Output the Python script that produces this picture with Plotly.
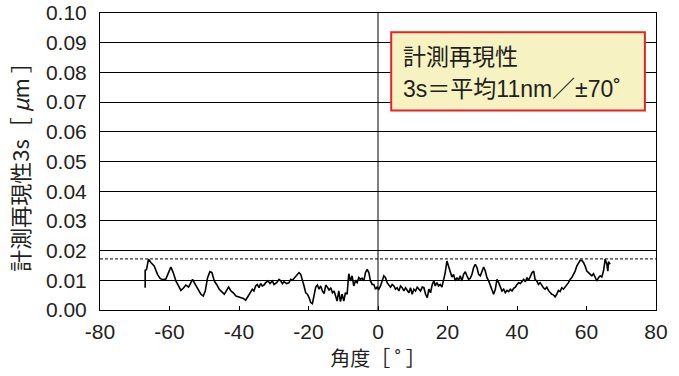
import plotly.graph_objects as go

# Measured repeatability (3s) versus angle
angle_deg = [
    -67.0, -67.0, -66.62, -66.04, -65.37, -64.41, -63.45, -62.77, -62.01, -61.05,
    -60.28, -59.60, -58.93, -58.16, -57.40, -56.72, -56.05, -55.28, -54.51, -53.84,
    -53.36, -52.88, -52.21, -51.63, -50.96, -50.29, -49.71, -49.04, -48.37, -47.79,
    -47.12, -46.44, -45.68, -44.91, -44.23, -43.56, -42.99, -42.31, -41.64, -40.87,
    -40.10, -39.53, -38.76, -38.09, -37.61, -36.84, -36.17, -35.69, -35.21, -34.73,
    -34.25, -33.77, -33.29, -32.81, -32.32, -31.65, -31.08, -30.40, -29.92, -29.16,
    -28.48, -28.00, -27.52, -27.04, -26.27, -25.60, -25.12, -24.64, -23.97, -23.39,
    -22.72, -22.24, -21.76, -21.28, -20.80, -20.32, -19.84, -19.36, -18.88, -18.40,
    -17.92, -17.44, -16.96, -16.48, -16.00, -15.51, -15.03, -14.55, -14.07, -13.59,
    -13.11, -12.63, -12.15, -11.77, -11.29, -10.81, -10.33, -9.85, -9.37, -8.89,
    -8.41, -7.93, -7.45, -6.97, -6.49, -6.01, -5.53, -5.05, -4.57, -4.08,
    -3.60, -3.12, -2.64, -2.16, -1.68, -1.20, -0.72, -0.24, 0.24, 0.72,
    1.20, 1.68, 2.16, 2.64, 3.12, 3.60, 4.08, 4.56, 5.04, 5.52,
    6.00, 6.48, 6.96, 7.44, 7.92, 8.40, 8.88, 9.36, 9.84, 10.32,
    10.80, 11.28, 11.76, 12.24, 12.73, 13.21, 13.69, 14.17, 14.65, 15.13,
    15.61, 16.09, 16.47, 16.95, 17.43, 17.91, 18.39, 18.87, 19.35, 19.83,
    20.31, 20.79, 21.27, 21.75, 22.23, 22.71, 23.19, 23.67, 24.15, 24.64,
    25.12, 25.60, 26.08, 26.56, 27.04, 27.52, 28.00, 28.48, 28.96, 29.44,
    29.92, 30.40, 30.88, 31.36, 31.84, 32.32, 32.80, 33.28, 33.76, 34.24,
    34.72, 35.20, 35.68, 36.16, 36.64, 37.12, 37.60, 38.08, 38.56, 39.04,
    39.52, 40.01, 40.49, 40.97, 41.45, 41.93, 42.41, 42.89, 43.37, 43.85,
    44.33, 44.81, 45.20, 45.68, 46.16, 46.64, 47.12, 47.60, 48.08, 48.56,
    49.04, 49.52, 50.00, 50.48, 50.96, 51.44, 51.92, 52.40, 52.88, 53.37,
    53.85, 54.33, 54.81, 55.29, 55.77, 56.25, 56.73, 57.21, 57.69, 58.17,
    58.65, 59.13, 59.61, 60.09, 60.57, 61.05, 61.53, 62.01, 62.49, 62.97,
    63.45, 63.93, 64.41, 64.89, 65.37, 65.85, 66.14, 66.33, 66.81,
]
repeatability_um = [
    0.0075, 0.0134, 0.0136, 0.0171, 0.0160, 0.0148, 0.0120, 0.0107, 0.0102, 0.0104,
    0.0126, 0.0145, 0.0126, 0.0098, 0.0081, 0.0066, 0.0073, 0.0084, 0.0077, 0.0092,
    0.0103, 0.0092, 0.0077, 0.0066, 0.0053, 0.0047, 0.0064, 0.0109, 0.0129, 0.0126,
    0.0098, 0.0086, 0.0070, 0.0061, 0.0053, 0.0066, 0.0077, 0.0064, 0.0058, 0.0047,
    0.0044, 0.0044, 0.0039, 0.0033, 0.0042, 0.0053, 0.0070, 0.0064, 0.0081, 0.0086,
    0.0075, 0.0089, 0.0081, 0.0084, 0.0092, 0.0098, 0.0089, 0.0098, 0.0086, 0.0092,
    0.0103, 0.0098, 0.0089, 0.0095, 0.0089, 0.0092, 0.0103, 0.0100, 0.0109, 0.0120,
    0.0126, 0.0120, 0.0103, 0.0081, 0.0058, 0.0053, 0.0042, 0.0025, 0.0021, 0.0053,
    0.0077, 0.0084, 0.0070, 0.0081, 0.0064, 0.0055, 0.0084, 0.0077, 0.0066, 0.0075,
    0.0058, 0.0064, 0.0047, 0.0030, 0.0064, 0.0028, 0.0053, 0.0030, 0.0058, 0.0053,
    0.0122, 0.0098, 0.0115, 0.0081, 0.0098, 0.0092, 0.0109, 0.0103, 0.0107, 0.0098,
    0.0126, 0.0137, 0.0126, 0.0098, 0.0086, 0.0086, 0.0070, 0.0077, 0.0070, 0.0081,
    0.0098, 0.0115, 0.0109, 0.0092, 0.0084, 0.0077, 0.0086, 0.0081, 0.0070, 0.0075,
    0.0064, 0.0081, 0.0075, 0.0064, 0.0075, 0.0066, 0.0058, 0.0075, 0.0053, 0.0070,
    0.0064, 0.0077, 0.0070, 0.0064, 0.0077, 0.0075, 0.0053, 0.0042, 0.0070, 0.0058,
    0.0086, 0.0098, 0.0081, 0.0092, 0.0081, 0.0086, 0.0077, 0.0098, 0.0126, 0.0165,
    0.0148, 0.0129, 0.0111, 0.0120, 0.0098, 0.0109, 0.0100, 0.0115, 0.0098, 0.0120,
    0.0129, 0.0115, 0.0103, 0.0107, 0.0120, 0.0143, 0.0154, 0.0143, 0.0120, 0.0115,
    0.0131, 0.0145, 0.0131, 0.0109, 0.0098, 0.0084, 0.0064, 0.0053, 0.0070, 0.0103,
    0.0092, 0.0075, 0.0064, 0.0070, 0.0058, 0.0066, 0.0062, 0.0070, 0.0064, 0.0073,
    0.0077, 0.0086, 0.0092, 0.0089, 0.0098, 0.0103, 0.0095, 0.0109, 0.0100, 0.0111,
    0.0126, 0.0131, 0.0103, 0.0098, 0.0086, 0.0092, 0.0081, 0.0075, 0.0070, 0.0077,
    0.0066, 0.0058, 0.0053, 0.0051, 0.0044, 0.0053, 0.0066, 0.0062, 0.0075, 0.0070,
    0.0077, 0.0081, 0.0092, 0.0103, 0.0109, 0.0120, 0.0131, 0.0148, 0.0160, 0.0167,
    0.0167, 0.0160, 0.0148, 0.0131, 0.0126, 0.0120, 0.0115, 0.0122, 0.0109, 0.0098,
    0.0109, 0.0115, 0.0111, 0.0131, 0.0171, 0.0154, 0.0131, 0.0163, 0.0154,
]

# Upper reference level drawn as a dashed line
reference_level = 0.0172

x_ticks = [-80, -60, -40, -20, 0, 20, 40, 60, 80]
y_ticks = [0.00, 0.01, 0.02, 0.03, 0.04, 0.05, 0.06, 0.07, 0.08, 0.09, 0.10]

note_title = "計測再現性"
note_body = "3s＝平均11nm／±70˚"

LATIN = "Liberation Sans, Arial, Noto Sans CJK JP, sans-serif"
CJK = "Noto Sans CJK JP, sans-serif"
INK = "#231F20"

fig = go.Figure()

fig.add_trace(go.Scatter(
    x=[-80, 80], y=[reference_level, reference_level],
    mode="lines", line=dict(color="black", width=1, dash="3px,2px"),
    hoverinfo="skip", showlegend=False,
))

fig.add_trace(go.Scatter(
    x=angle_deg, y=repeatability_um,
    mode="lines", line=dict(color="black", width=1.6),
    showlegend=False,
))

# Vertical reference at 0 degrees
fig.add_shape(type="line", x0=0, x1=0, y0=0, y1=0.10, xref="x", yref="y",
              line=dict(color="black", width=1), layer="below")

# Note box
fig.add_shape(type="rect", x0=3.8, x1=76.8, y0=0.0672, y1=0.0935,
              xref="x", yref="y", fillcolor="#F6F2C2",
              line=dict(color="#E5232B", width=2), layer="above")
fig.add_annotation(x=6.6, y=0.0858, xref="x", yref="y", text=note_title,
                   showarrow=False, xanchor="left", yanchor="middle",
                   font=dict(family=CJK, size=23, color=INK))
fig.add_annotation(x=6.6, y=0.0744, xref="x", yref="y", text=note_body,
                   showarrow=False, xanchor="left", yanchor="middle",
                   font=dict(family=LATIN, size=23, color=INK))

fig.update_layout(
    width=679, height=376,
    margin=dict(l=100, r=23, t=13, b=66, autoexpand=False),
    paper_bgcolor="white", plot_bgcolor="white",
    font=dict(family=LATIN, size=21, color=INK),
)

fig.update_xaxes(
    range=[-80, 80], tickvals=x_ticks, ticktext=[str(v) for v in x_ticks],
    showgrid=False, zeroline=False, automargin=False,
    showline=True, linecolor="black", linewidth=1, mirror=True,
    ticks="inside", ticklen=4, tickcolor="black", ticklabelstandoff=3,
    title=dict(text="角度［ ˚ ］", font=dict(family=CJK, size=20), standoff=2),
)
fig.update_yaxes(
    range=[0, 0.10], tickvals=y_ticks, ticktext=[f"{v:.2f}" for v in y_ticks],
    showgrid=True, gridcolor="black", gridwidth=1, zeroline=False, automargin=False,
    showline=True, linecolor="black", linewidth=1, mirror=True,
    ticks="", ticklabelstandoff=8,
    title=dict(text="計測再現性3s［ <i>μ</i>m ］", font=dict(family=CJK, size=22), standoff=10),
)

fig.write_html("out.html")
